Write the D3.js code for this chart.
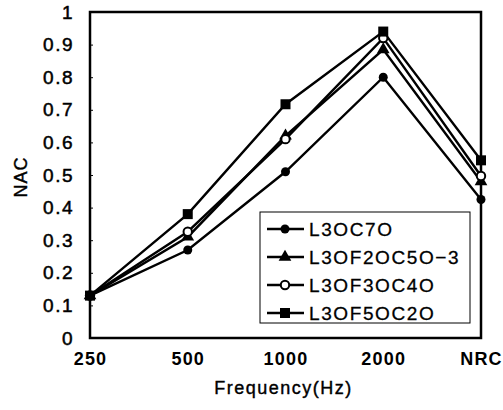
<!DOCTYPE html>
<html>
<head>
<meta charset="utf-8">
<script src="https://cdn.jsdelivr.net/npm/d3@7"></script>
<style>
  body { margin: 0; background: #fff; }
  svg { font-family: "Liberation Sans", Arial, sans-serif; }
</style>
</head>
<body>
<svg id="chart" width="503" height="410"></svg>
<script>
const categories = ['250', '500', '1000', '2000', 'NRC'];
const seriesNames = ['L3OC7O', 'L3OF2OC5O\u22123', 'L3OF3OC4O', 'L3OF5OC2O'];
const l30c70 = [0.13, 0.27, 0.51, 0.80, 0.425];
const l30f20c50 = [0.13, 0.31, 0.62, 0.885, 0.48];
const l30f30c40 = [0.13, 0.326, 0.61, 0.92, 0.497];
const l30f50c20 = [0.13, 0.38, 0.717, 0.94, 0.545];
const yTicks = [0, 0.1, 0.2, 0.3, 0.4, 0.5, 0.6, 0.7, 0.8, 0.9, 1];

const series = [
  { name: seriesNames[0], values: l30c70, marker: 'circleFilled' },
  { name: seriesNames[1], values: l30f20c50, marker: 'triangle' },
  { name: seriesNames[2], values: l30f30c40, marker: 'circleOpen' },
  { name: seriesNames[3], values: l30f50c20, marker: 'square' }
];

const margin = { top: 12, right: 22, bottom: 72, left: 90 };
const width = 503, height = 410;
const svg = d3.select('#chart');

const x = d3.scalePoint().domain(categories).range([margin.left, width - margin.right]);
const y = d3.scaleLinear().domain([0, 1]).range([height - margin.bottom, margin.top]);

// frame
svg.append('rect')
  .attr('x', margin.left).attr('y', margin.top)
  .attr('width', width - margin.right - margin.left)
  .attr('height', height - margin.bottom - margin.top)
  .attr('fill', 'none').attr('stroke', '#000').attr('stroke-width', 2.5);

// y axis
const yAxis = svg.append('g')
  .attr('transform', `translate(${margin.left},0)`)
  .call(d3.axisLeft(y).tickValues(yTicks).tickSize(-3).tickPadding(16)
    .tickFormat(d => (d === 0 || d === 1) ? d3.format('d')(d) : d3.format('.1f')(d)));
yAxis.select('.domain').remove();
yAxis.selectAll('text').attr('font-size', 19).attr('letter-spacing', 1.5)
  .attr('fill', '#000').attr('stroke', '#000').attr('stroke-width', 0.5);

// x axis
const xAxis = svg.append('g')
  .attr('transform', `translate(0,${height - margin.bottom})`)
  .call(d3.axisBottom(x).tickSize(0).tickPadding(14));
xAxis.select('.domain').remove();
xAxis.selectAll('text').attr('font-size', 18).attr('font-weight', 'bold').attr('letter-spacing', 1.2).attr('fill', '#000');

// axis titles
svg.append('text')
  .attr('x', (margin.left + width - margin.right) / 2 - 2).attr('y', 394)
  .attr('text-anchor', 'middle').attr('font-size', 18).attr('letter-spacing', 1.5)
  .attr('stroke', '#000').attr('stroke-width', 0.4)
  .text('Frequency(Hz)');
svg.append('text')
  .attr('transform', `translate(27,${(margin.top + height - margin.bottom) / 2 + 2}) rotate(-90)`)
  .attr('text-anchor', 'middle').attr('font-size', 18).attr('letter-spacing', 1)
  .attr('stroke', '#000').attr('stroke-width', 0.4)
  .text('NAC');

function drawMarker(g, type, cx, cy) {
  if (type === 'circleFilled') {
    g.append('circle').attr('cx', cx).attr('cy', cy).attr('r', 4.5).attr('fill', '#000');
  } else if (type === 'circleOpen') {
    g.append('circle').attr('cx', cx).attr('cy', cy).attr('r', 4.2)
      .attr('fill', '#fff').attr('stroke', '#000').attr('stroke-width', 2);
  } else if (type === 'triangle') {
    g.append('path').attr('d', d3.symbol(d3.symbolTriangle, 70)())
      .attr('transform', `translate(${cx},${cy})`).attr('fill', '#000');
  } else {
    g.append('rect').attr('x', cx - 5).attr('y', cy - 5).attr('width', 10).attr('height', 10).attr('fill', '#000');
  }
}

const line = d3.line().x((d, i) => x(categories[i])).y(d => y(d));

series.forEach(s => {
  svg.append('path').datum(s.values)
    .attr('d', line).attr('fill', 'none').attr('stroke', '#000').attr('stroke-width', 2.4);
});
series.forEach(s => {
  const g = svg.append('g');
  s.values.forEach((v, i) => drawMarker(g, s.marker, x(categories[i]), y(v)));
});

// legend
const legend = svg.append('g');
legend.append('rect')
  .attr('x', 260).attr('y', 212).attr('width', 210).attr('height', 111)
  .attr('fill', '#fff').attr('stroke', '#000').attr('stroke-width', 1);
series.forEach((s, i) => {
  const ly = 229 + i * 28;
  legend.append('line').attr('x1', 267).attr('x2', 304).attr('y1', ly).attr('y2', ly)
    .attr('stroke', '#000').attr('stroke-width', 2.4);
  drawMarker(legend, s.marker, 285, ly);
  legend.append('text').attr('x', 309).attr('y', ly + 7)
    .attr('font-size', 19).attr('letter-spacing', 1.6)
    .attr('stroke', '#000').attr('stroke-width', 0.3).text(s.name);
});
</script>
</body>
</html>
